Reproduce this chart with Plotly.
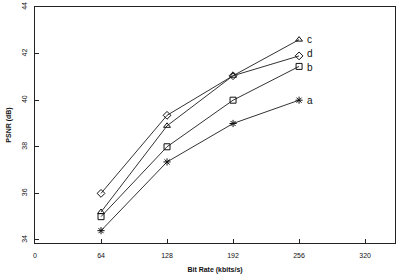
import plotly.graph_objects as go

bit_rate = [64, 128, 192, 256]
psnr_a = [34.4, 37.35, 39.0, 40.0]
psnr_b = [35.0, 38.0, 40.0, 41.45]
psnr_c = [35.2, 38.9, 41.05, 42.6]
psnr_d = [36.0, 39.35, 41.05, 41.9]
series_names = ["a", "b", "c", "d"]
x_ticks = [0, 64, 128, 192, 256, 320]
y_ticks = [34, 36, 38, 40, 42, 44]

markers = {"a": "asterisk-open", "b": "square-open", "c": "triangle-up-open", "d": "diamond-open"}
values = {"a": psnr_a, "b": psnr_b, "c": psnr_c, "d": psnr_d}
label_shift = {"a": 0, "b": -1, "c": 0, "d": 2}

fig = go.Figure()
for name in series_names:
    fig.add_trace(go.Scatter(
        x=bit_rate, y=values[name], mode="lines+markers",
        line=dict(color="#333333", width=1),
        marker=dict(symbol=markers[name], size=6, color="#111111", line=dict(width=1, color="#111111")),
        showlegend=False,
    ))
    fig.add_annotation(x=bit_rate[-1], y=values[name][-1], text=name, showarrow=False,
                       xanchor="left", xshift=6, yshift=label_shift[name],
                       font=dict(size=10, color="#111111", family="Liberation Sans"))

fig.update_layout(
    width=399, height=274,
    margin=dict(l=35, r=4, t=7, b=31),
    plot_bgcolor="white", paper_bgcolor="white",
    font=dict(family="Liberation Sans", size=7, color="#111111"),
)
fig.update_xaxes(range=[0, 349], tickvals=x_ticks, ticktext=[str(v) for v in x_ticks],
                 showgrid=False, zeroline=False, showline=True, linecolor="#222222", linewidth=1,
                 mirror=True, ticks="inside", ticklen=4, tickcolor="#222222",
                 ticklabelstandoff=6, automargin=False,
                 title=dict(text="<b>Bit Rate (kbits/s)</b>", standoff=8, font=dict(size=7)),
                 tickfont=dict(size=7))
fig.update_yaxes(range=[33.87, 44], tickvals=y_ticks, ticktext=[str(v) for v in y_ticks],
                 showgrid=False, zeroline=False, showline=True, linecolor="#222222", linewidth=1,
                 mirror=True, ticks="inside", ticklen=4, tickcolor="#222222", tickangle=-90,
                 ticklabelstandoff=4, automargin=False,
                 title=dict(text="<b>PSNR (dB)</b>", standoff=8, font=dict(size=7)),
                 tickfont=dict(size=7))

fig.write_html("out.html")
